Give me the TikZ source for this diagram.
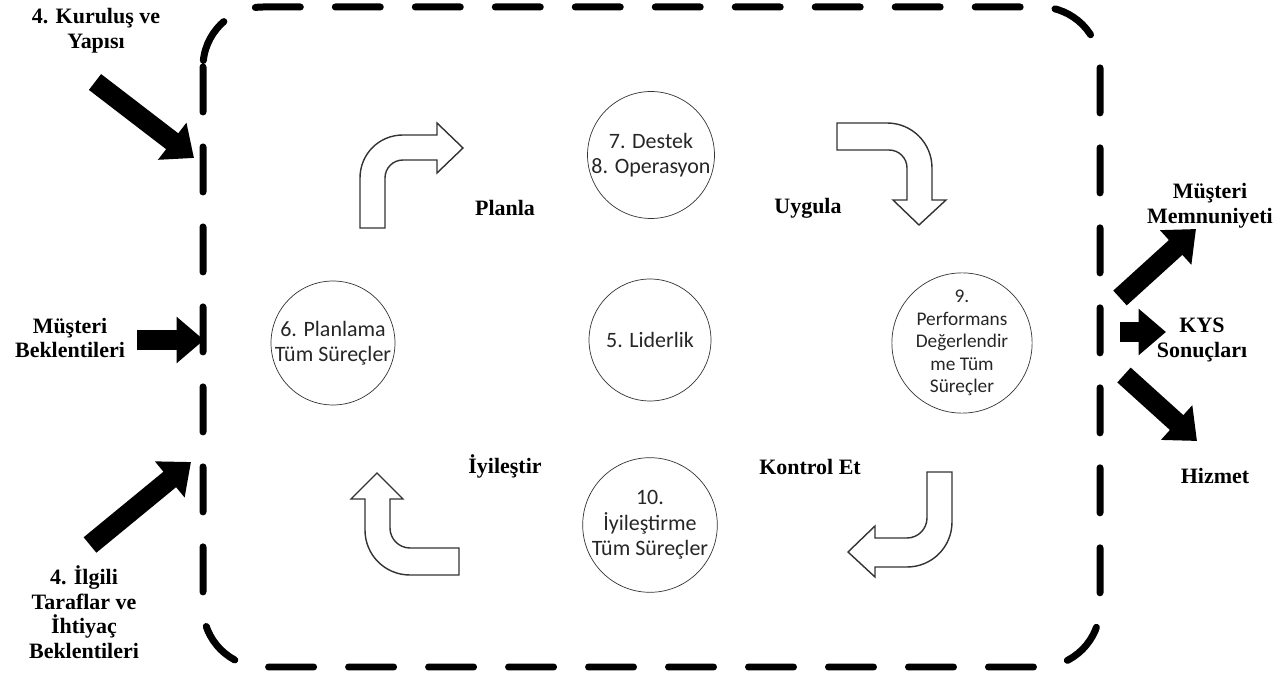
\documentclass[tikz,border=0pt]{standalone}
\usepackage{fontspec}
\setmainfont{Liberation Serif}
\newfontfamily\circfont{Carlito}
\usetikzlibrary{arrows.meta}

\tikzset{
  stage/.style={circle,draw=black!80,thin,minimum size=2.44cm,align=center,inner sep=0pt,
    font=\circfont\fontsize{12.5}{14.5}\selectfont,text=black!85},
  tag/.style={align=center,font=\bfseries\fontsize{12.5}{14}\selectfont},
  bigarrow/.style={line width=0.4cm,-{Triangle[length=0.55cm,width=0.9cm]}},
  hollow/.style={draw=black!80,line width=0.8pt,fill=white},
  frame/.style={line width=0.14cm,line cap=round,dash pattern=on 0.9cm off 0.7cm,rounded corners=1.2cm}
}

\begin{document}
\begin{tikzpicture}[x=0.02cm,y=-0.02cm]
\useasboundingbox (0,0) rectangle (1279,675);

% dashed frame
\draw[frame] (203,7) rectangle (1100,667);

% stages
\begin{scope}[every node/.style={stage}]
    \node (destek) at (651,155) {7. Destek\\8. Operasyon};
    \node (planlama) at (333,343) {6. Planlama\\Tüm Süreçler};
    \node (liderlik) at (650,340) {5. Liderlik};
    \node[font=\circfont\fontsize{11}{12.8}\selectfont] (perf) at (962,343) {9.\\Performans\\Değerlendir\\me Tüm\\Süreçler};
    \node (iyilestirme) at (650,525) {10.\\İyileştirme\\Tüm Süreçler};
\end{scope}

% cycle arrows
\draw[hollow] (360,228) -- (360,178) .. controls (360,154) and (379,135) .. (403,135) -- (437,135)
    -- (437,123) -- (463,148) -- (437,173) -- (437,160) -- (403,160)
    .. controls (393,160) and (385,168) .. (385,178) -- (385,228) -- cycle;
\draw[hollow] (837,123) -- (887,123) .. controls (912,123) and (932,143) .. (932,168) -- (932,200)
    -- (946,200) -- (919,225) -- (893,200) -- (907,200) -- (907,168)
    .. controls (907,158) and (899,150) .. (889,150) -- (837,150) -- cycle;
\draw[hollow] (377,473) -- (403,499) -- (390,499) -- (390,528)
    .. controls (390,539) and (399,548) .. (410,548) -- (459,548) -- (459,575) -- (410,575)
    .. controls (385,575) and (365,555) .. (365,530) -- (365,499) -- (351,499) -- cycle;
\draw[hollow] (927,472) -- (952,472) -- (952,522) .. controls (952,547) and (932,567) .. (907,567)
    -- (875,567) -- (875,577) -- (848,552) -- (875,526) -- (875,538) -- (907,538)
    .. controls (918,538) and (927,529) .. (927,518) -- cycle;

% labels
\begin{scope}[every node/.style={tag}]
    \node (planla) at (505,208) {Planla};
    \node (uygula) at (808,208) {Uygula};
    \node (iyiles) at (505,466) {İyileştir};
    \node (kontrol) at (810,467) {Kontrol Et};
    \node (kurulus) at (96,31) {4. Kuruluş ve\\Yapısı};
    \node (musteri) at (70,338) {Müşteri\\Beklentileri};
    \node (ilgili) at (84,612) {4. İlgili\\Taraflar ve\\İhtiyaç\\Beklentileri};
    \node (memnun) at (1210,206) {Müşteri\\Memnuniyeti};
    \node (kys) at (1202,340) {KYS\\Sonuçları};
    \node (hizmet) at (1215,476) {Hizmet};
\end{scope}

% inputs and outputs
\coordinate (kurulus-out) at (95,82);
\coordinate (kurulus-in) at (194,158);
\coordinate (musteri-out) at (137,340);
\coordinate (musteri-in) at (204,340);
\coordinate (ilgili-out) at (90,545);
\coordinate (ilgili-in) at (191,462);
\coordinate (memnun-out) at (1120,298);
\coordinate (memnun-in) at (1196,229);
\coordinate (kys-out) at (1120,332);
\coordinate (kys-in) at (1166,332);
\coordinate (hizmet-out) at (1124,375);
\coordinate (hizmet-in) at (1197,441);
\foreach \p in {kurulus,musteri,ilgili,memnun,kys,hizmet}
    \draw[bigarrow] (\p-out) -- (\p-in);
\end{tikzpicture}
\end{document}
